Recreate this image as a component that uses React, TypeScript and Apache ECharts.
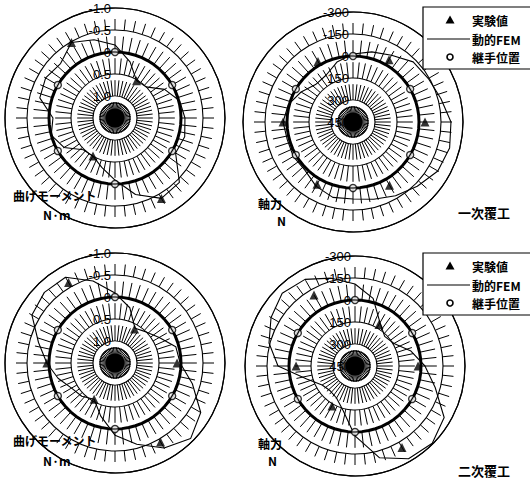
import React, { useEffect, useRef } from "react";
import * as echarts from "echarts";

// Angles are measured clockwise from the crown (top of the ring), in degrees.
const FEM_ANGLES = [0, 15, 30, 45, 60, 75, 90, 105, 120, 135, 150, 165, 180, 195, 210, 225, 240, 255, 270, 285, 300, 315, 330, 345];
const JOINT_ANGLES = [0, 60, 120, 180, 240, 300];
const TEST_ANGLES = [30, 90, 150, 210, 270, 330];

// 一次覆工 – bending moment (N·m)
const FEM_MOMENT_1 = [-0.16, 0.18, 0.52, 0.5, 0.2, -0.02, -0.09, -0.14, -0.09, -0.57, -0.61, -0.3, 0.09, 0.34, 0.5, 0.48, 0.16, 0.0, 0.09, -0.27, -0.32, -0.25, -0.48, -0.34];
const TEST_MOMENT_1 = [0.52, null, -0.61, 0.5, null, -0.48];
// 一次覆工 – axial force (N)
const FEM_AXIAL_1 = [-14, -45, -75, -130, -143, -170, -218, -232, -218, -170, -130, -95, -75, -82, -55, -14, -20, -14, -27, -7, 41, 89, 82, 27];
const TEST_AXIAL_1 = [-41, -41, -48, -41, -27, -27];
// 二次覆工 – bending moment (N·m)
const FEM_MOMENT_2 = [-0.09, 0.2, 0.59, 0.5, 0.34, 0.07, 0.02, -0.32, -0.75, -0.93, -0.73, -0.41, -0.14, 0.25, 0.55, 0.43, 0.36, 0.16, -0.05, -0.3, -0.68, -0.77, -0.75, -0.43];
const TEST_MOMENT_2 = [0.61, 0.09, -0.57, 0.55, -0.05, -0.61];
// 二次覆工 – axial force (N)
const FEM_AXIAL_2 = [-109, -27, 109, 164, 143, 55, -27, -116, -252, -295, -280, -198, -27, 136, 198, 211, 191, 109, -75, -157, -211, -252, -232, -170];
const TEST_AXIAL_2 = [123, 20, -191, 136, 48, -109];

// radial scales (outer edge -> centre)
const MOMENT_TICKS = [-1.0, -0.5, 0, 0.5, 1.0, 1.5];
const AXIAL_TICKS = [-300, -150, 0, 150, 300, 450];
const LINING_VALUE = 0;

const LEGEND_LABELS = ["実験値", "動的FEM", "継手位置"];

const R = 110;
const BAND = R / 5;
const DASH = BAND * 0.72;
const GAP = BAND - DASH;
const HUB = 11;
// radial dash pattern from the centre outwards: innermost band starts at the hub,
// every other band carries a dash that touches its outer circle
const RADIAL_DASH = [0, HUB, BAND - HUB, GAP, DASH, GAP, DASH, GAP, DASH, GAP, DASH];
const JP = '"Noto Sans CJK JP", "Noto Sans", sans-serif';
const NUM = '"Liberation Sans", Arial, sans-serif';

const momentLabel = (v: number) => (v === 1.5 ? "" : v === 0 ? "0" : v.toFixed(1));
const axialLabel = (v: number) => String(v);

const PLOTS = [
  { center: [115, 118], fem: FEM_MOMENT_1, test: TEST_MOMENT_1, ticks: MOMENT_TICKS, fmt: momentLabel },
  { center: [353, 122], fem: FEM_AXIAL_1, test: TEST_AXIAL_1, ticks: AXIAL_TICKS, fmt: axialLabel },
  { center: [115, 363], fem: FEM_MOMENT_2, test: TEST_MOMENT_2, ticks: MOMENT_TICKS, fmt: momentLabel },
  { center: [355, 366], fem: FEM_AXIAL_2, test: TEST_AXIAL_2, ticks: AXIAL_TICKS, fmt: axialLabel },
];

const LINING_ANGLES = Array.from({ length: 61 }, (_, i) => i * 6);

function legendBox(top: number) {
  const rowY = [top + 13, top + 32, top + 50];
  const text = (y: number, t: string) => ({
    type: "text",
    x: 472,
    y,
    z: 21,
    style: {
      text: t,
      fill: "#000",
      font: `bold 12px ${JP}`,
      align: "left",
      verticalAlign: "middle",
      textAlign: "left",
      textVerticalAlign: "middle",
    },
  });
  return [
    {
      type: "rect",
      z: 20,
      shape: { x: 423, y: top, width: 112, height: 62 },
      style: { fill: "#fff", stroke: "#000", lineWidth: 1.2 },
    },
    {
      type: "polygon",
      z: 21,
      shape: { points: [[450, rowY[0] - 4.5], [454.5, rowY[0] + 3.5], [445.5, rowY[0] + 3.5]] },
      style: { fill: "#000" },
    },
    {
      type: "line",
      z: 21,
      shape: { x1: 427, y1: rowY[1], x2: 470, y2: rowY[1] },
      style: { stroke: "#000", lineWidth: 1.2 },
    },
    {
      type: "circle",
      z: 21,
      shape: { cx: 450, cy: rowY[2], r: 3 },
      style: { fill: "#fff", stroke: "#000", lineWidth: 1.6 },
    },
    text(rowY[0], LEGEND_LABELS[0]),
    text(rowY[1], LEGEND_LABELS[1]),
    text(rowY[2], LEGEND_LABELS[2]),
  ];
}

function label(x: number, y: number, t: string, size = 12) {
  return {
    type: "text",
    x,
    y,
    z: 15,
    style: {
      text: t,
      fill: "#000",
      font: `bold ${size}px ${JP}`,
      align: "left",
      verticalAlign: "middle",
      textAlign: "left",
      textVerticalAlign: "middle",
    },
  };
}

export default function App() {
  const ref = useRef<HTMLDivElement>(null);

  useEffect(() => {
    if (!ref.current) return;
    const chart = echarts.init(ref.current, undefined, { renderer: "svg" });

    const hubs = PLOTS.flatMap((p) => [
      {
        type: "circle",
        z: 1,
        shape: { cx: p.center[0], cy: p.center[1], r: 15 },
        style: { fill: "none", stroke: "#000", lineWidth: 1.1 },
      },
      {
        type: "circle",
        z: 1,
        shape: { cx: p.center[0], cy: p.center[1], r: 9.5 },
        style: { fill: "#000" },
      },
    ]);

    const option: any = {
      animation: false,
      backgroundColor: "#fff",
      polar: PLOTS.map((p) => ({ center: p.center, radius: R })),
      angleAxis: PLOTS.map((_, i) => ({
        polarIndex: i,
        type: "value",
        min: 0,
        max: 360,
        interval: 6,
        startAngle: 90,
        clockwise: true,
        axisLine: { show: true, lineStyle: { color: "#000", width: 1.2 } },
        axisTick: { show: false },
        axisLabel: { show: false },
        splitLine: {
          show: true,
          lineStyle: { color: "#000", width: 1, type: RADIAL_DASH, dashOffset: 0 },
        },
      })),
      radiusAxis: PLOTS.map((p, i) => ({
        polarIndex: i,
        type: "value",
        min: p.ticks[0],
        max: p.ticks[p.ticks.length - 1],
        interval: p.ticks[1] - p.ticks[0],
        inverse: true,
        z: 12,
        axisLine: { show: false },
        axisTick: { show: false },
        axisLabel: {
          show: true,
          margin: 4,
          color: "#000",
          fontSize: 13,
          fontFamily: NUM,
          formatter: p.fmt,
        },
        splitLine: { show: true, lineStyle: { color: "#000", width: 1.1 } },
      })),
      series: PLOTS.flatMap((p, i) => [
        {
          name: "lining",
          type: "line",
          coordinateSystem: "polar",
          polarIndex: i,
          data: LINING_ANGLES.map((a) => [LINING_VALUE, a]),
          symbol: "none",
          clip: false,
          lineStyle: { color: "#000", width: 3 },
          z: 3,
        },
        {
          name: LEGEND_LABELS[1],
          type: "line",
          coordinateSystem: "polar",
          polarIndex: i,
          data: [...FEM_ANGLES.map((a, k) => [p.fem[k], a]), [p.fem[0], 360]],
          symbol: "none",
          clip: false,
          lineStyle: { color: "#000", width: 1.1 },
          z: 4,
        },
        {
          name: LEGEND_LABELS[2],
          type: "scatter",
          coordinateSystem: "polar",
          polarIndex: i,
          data: JOINT_ANGLES.map((a) => [LINING_VALUE, a]),
          symbol: "circle",
          symbolSize: 7,
          itemStyle: { color: "#fff", borderColor: "#000", borderWidth: 1.4 },
          z: 6,
        },
        {
          name: LEGEND_LABELS[0],
          type: "scatter",
          coordinateSystem: "polar",
          polarIndex: i,
          data: TEST_ANGLES.map((a, k) => [p.test[k], a]).filter((d) => d[0] !== null),
          symbol: "triangle",
          symbolSize: 9,
          itemStyle: { color: "#000" },
          z: 7,
        },
      ]),
      graphic: [
        ...hubs,
        ...legendBox(7),
        ...legendBox(253),
        label(13, 195, "曲げモーメント"),
        label(43, 214, "N·m"),
        label(258, 203, "軸力"),
        label(277, 220, "N"),
        label(458, 212, "一次覆工", 13),
        label(13, 440, "曲げモーメント"),
        label(43, 460, "N·m"),
        label(258, 443, "軸力"),
        label(268, 460, "N"),
        label(458, 470, "二次覆工", 13),
      ],
    };

    chart.setOption(option);
    return () => chart.dispose();
  }, []);

  return (
    <div
      ref={ref}
      style={{ position: "absolute", left: 0, top: 0, width: 530, height: 483, background: "#fff" }}
    />
  );
}
